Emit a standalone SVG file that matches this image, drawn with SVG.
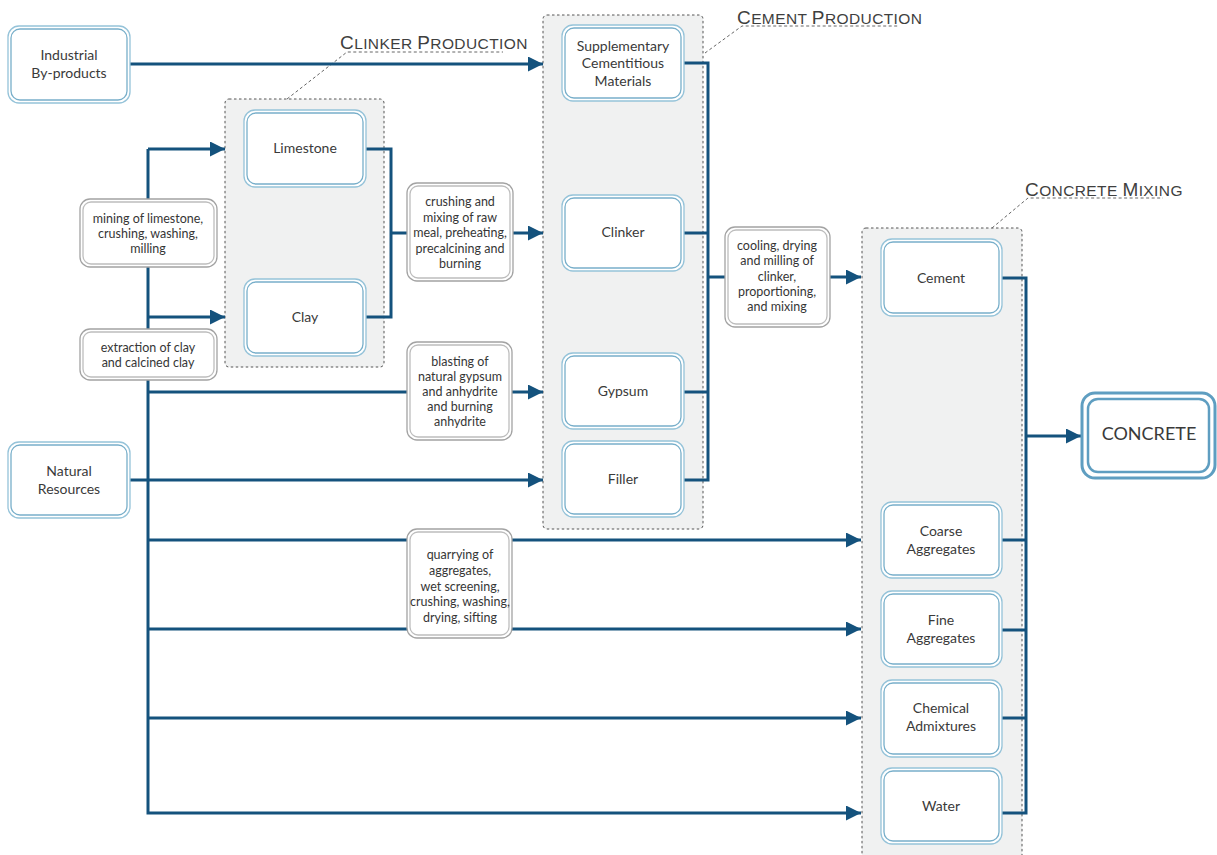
<svg xmlns="http://www.w3.org/2000/svg" width="1217" height="855" viewBox="0 0 1217 855">
  <style>
    .grp { fill: #f0f1f1; stroke: #555; stroke-width: 1; stroke-dasharray: 2.5 2.5; }
    .lead { fill: none; stroke: #666; stroke-width: 1; stroke-dasharray: 3 2.5; }
    .gtitle { font-family: "Liberation Sans", Arial, sans-serif; fill: #3f3f3f; letter-spacing: 0.4px; }
    .big { font-size: 19px; }
    .sm { font-size: 15.5px; }
    .n-out { fill: #fff; stroke: #95c3d9; stroke-width: 1.3; }
    .n-in { fill: #fff; stroke: #78afca; stroke-width: 1.3; }
    .l-out { fill: #fff; stroke: #a3a3a3; stroke-width: 1.3; }
    .l-in { fill: #fff; stroke: #bdbdbd; stroke-width: 1.3; }
    .nt { font-family: Lato, "Noto Sans", sans-serif; font-size: 14px; fill: #3a3a3a; text-anchor: middle; }
    .lt { font-family: Lato, "Noto Sans", sans-serif; font-size: 12.5px; fill: #363636; text-anchor: middle; }
    .wire { fill: none; stroke: #14527d; stroke-width: 3; }
    .arr { marker-end: url(#head); }
    .fin-out { fill: #fff; stroke: #5f9ec1; stroke-width: 3; }
    .fin-in { fill: #fff; stroke: #5f9ec1; stroke-width: 2.5; }
  </style>
  <defs>
    <marker id="head" viewBox="0 0 15 15" refX="15" refY="7.5" markerWidth="15" markerHeight="15" markerUnits="userSpaceOnUse" orient="auto">
      <path d="M0,0 L15,7.5 L0,15 z" fill="#14527d"/>
    </marker>
  </defs>

  <rect width="1217" height="855" fill="#fff"/>

  <!-- stage groups -->
  <g id="group-clinker">
    <rect class="grp" x="225" y="99" width="159" height="268" rx="4"/>
    <path class="lead" d="M287,99 L347,52 H503"/>
    <text class="gtitle" x="340" y="49"><tspan class="big">C</tspan><tspan class="sm">LINKER </tspan><tspan class="big">P</tspan><tspan class="sm">RODUCTION</tspan></text>
  </g>
  <g id="group-cement">
    <rect class="grp" x="543" y="15" width="160" height="514" rx="4"/>
    <path class="lead" d="M705,53 L742,26 H898"/>
    <text class="gtitle" x="737" y="24"><tspan class="big">C</tspan><tspan class="sm">EMENT </tspan><tspan class="big">P</tspan><tspan class="sm">RODUCTION</tspan></text>
  </g>
  <g id="group-mixing">
    <rect class="grp" x="862" y="228" width="160" height="640" rx="4"/>
    <path class="lead" d="M992,228 L1028,198 H1163"/>
    <text class="gtitle" x="1025" y="196"><tspan class="big">C</tspan><tspan class="sm">ONCRETE </tspan><tspan class="big">M</tspan><tspan class="sm">IXING</tspan></text>
  </g>

  <!-- connectors -->
  <g id="connectors">
    <path class="wire arr" d="M130,64 H543"/>
    <path class="wire arr" d="M148,149 H225"/>
    <path class="wire arr" d="M148,149 V813 H861"/>
    <path class="wire arr" d="M148,317 H225"/>
    <path class="wire arr" d="M148,392 H543"/>
    <path class="wire arr" d="M130,480 H543"/>
    <path class="wire arr" d="M148,540 H861"/>
    <path class="wire arr" d="M148,629 H861"/>
    <path class="wire arr" d="M148,718 H861"/>
    <path class="wire" d="M365,149 H391 V317 H365"/>
    <path class="wire arr" d="M391,233 H543"/>
    <path class="wire" d="M683,63 H708 V480 H683 M683,233 H708 M683,392 H708"/>
    <path class="wire arr" d="M708,277 H861"/>
    <path class="wire" d="M1001,278 H1026 V813 H1001 M1001,540 H1026 M1001,630 H1026 M1001,718 H1026"/>
    <path class="wire arr" d="M1026,436 H1081"/>
  </g>

  <!-- source nodes -->
  <g id="industrial-byproducts">
    <rect class="n-out" x="8" y="26" width="122" height="77" rx="11"/>
    <rect class="n-in" x="11" y="29" width="116" height="71" rx="9"/>
    <text class="nt" x="69" y="60">Industrial</text>
    <text class="nt" x="69" y="78">By-products</text>
  </g>
  <g id="natural-resources">
    <rect class="n-out" x="8" y="442" width="122" height="76" rx="11"/>
    <rect class="n-in" x="11" y="445" width="116" height="70" rx="9"/>
    <text class="nt" x="69" y="476">Natural</text>
    <text class="nt" x="69" y="494">Resources</text>
  </g>

  <!-- process labels -->
  <g id="label-mining">
    <rect class="l-out" x="80" y="199" width="137" height="68" rx="10"/>
    <rect class="l-in" x="83" y="202" width="131" height="62" rx="8"/>
    <text class="lt" x="148" y="223">mining of limestone,</text>
    <text class="lt" x="148" y="238">crushing, washing,</text>
    <text class="lt" x="148" y="253">milling</text>
  </g>
  <g id="label-extraction">
    <rect class="l-out" x="80" y="329" width="137" height="51" rx="10"/>
    <rect class="l-in" x="83" y="332" width="131" height="45" rx="8"/>
    <text class="lt" x="148" y="352">extraction of clay</text>
    <text class="lt" x="148" y="367">and calcined clay</text>
  </g>
  <g id="label-crushing">
    <rect class="l-out" x="407" y="183" width="106" height="98" rx="10"/>
    <rect class="l-in" x="410" y="186" width="100" height="92" rx="8"/>
    <text class="lt" x="460" y="206">crushing and</text>
    <text class="lt" x="460" y="222">mixing of raw</text>
    <text class="lt" x="460" y="237">meal, preheating,</text>
    <text class="lt" x="460" y="253">precalcining and</text>
    <text class="lt" x="460" y="268">burning</text>
  </g>
  <g id="label-blasting">
    <rect class="l-out" x="407" y="342" width="105" height="98" rx="10"/>
    <rect class="l-in" x="410" y="345" width="99" height="92" rx="8"/>
    <text class="lt" x="460" y="366">blasting of</text>
    <text class="lt" x="460" y="381">natural gypsum</text>
    <text class="lt" x="460" y="396">and anhydrite</text>
    <text class="lt" x="460" y="411">and burning</text>
    <text class="lt" x="460" y="426">anhydrite</text>
  </g>
  <g id="label-quarrying">
    <rect class="l-out" x="407" y="529" width="105" height="109" rx="10"/>
    <rect class="l-in" x="410" y="532" width="99" height="103" rx="8"/>
    <text class="lt" x="460" y="559">quarrying of</text>
    <text class="lt" x="460" y="575">aggregates,</text>
    <text class="lt" x="460" y="591">wet screening,</text>
    <text class="lt" x="460" y="606">crushing, washing,</text>
    <text class="lt" x="460" y="622">drying, sifting</text>
  </g>
  <g id="label-cooling">
    <rect class="l-out" x="725" y="227" width="105" height="100" rx="10"/>
    <rect class="l-in" x="728" y="230" width="99" height="94" rx="8"/>
    <text class="lt" x="777" y="250">cooling, drying</text>
    <text class="lt" x="777" y="265">and milling of</text>
    <text class="lt" x="777" y="281">clinker,</text>
    <text class="lt" x="777" y="296">proportioning,</text>
    <text class="lt" x="777" y="311">and mixing</text>
  </g>

  <!-- clinker production -->
  <g id="limestone">
    <rect class="n-out" x="244" y="110" width="122" height="77" rx="11"/>
    <rect class="n-in" x="247" y="113" width="116" height="71" rx="9"/>
    <text class="nt" x="305" y="153">Limestone</text>
  </g>
  <g id="clay">
    <rect class="n-out" x="244" y="279" width="122" height="77" rx="11"/>
    <rect class="n-in" x="247" y="282" width="116" height="71" rx="9"/>
    <text class="nt" x="305" y="322">Clay</text>
  </g>

  <!-- cement production -->
  <g id="scm">
    <rect class="n-out" x="562" y="25" width="122" height="76" rx="11"/>
    <rect class="n-in" x="565" y="28" width="116" height="70" rx="9"/>
    <text class="nt" x="623" y="51">Supplementary</text>
    <text class="nt" x="623" y="68">Cementitious</text>
    <text class="nt" x="623" y="86">Materials</text>
  </g>
  <g id="clinker">
    <rect class="n-out" x="562" y="195" width="122" height="76" rx="11"/>
    <rect class="n-in" x="565" y="198" width="116" height="70" rx="9"/>
    <text class="nt" x="623" y="237">Clinker</text>
  </g>
  <g id="gypsum">
    <rect class="n-out" x="562" y="353" width="122" height="76" rx="11"/>
    <rect class="n-in" x="565" y="356" width="116" height="70" rx="9"/>
    <text class="nt" x="623" y="396">Gypsum</text>
  </g>
  <g id="filler">
    <rect class="n-out" x="562" y="441" width="122" height="76" rx="11"/>
    <rect class="n-in" x="565" y="444" width="116" height="70" rx="9"/>
    <text class="nt" x="623" y="484">Filler</text>
  </g>

  <!-- concrete mixing -->
  <g id="cement">
    <rect class="n-out" x="881" y="239" width="121" height="77" rx="11"/>
    <rect class="n-in" x="884" y="242" width="115" height="71" rx="9"/>
    <text class="nt" x="941" y="283">Cement</text>
  </g>
  <g id="coarse-aggregates">
    <rect class="n-out" x="881" y="502" width="121" height="76" rx="11"/>
    <rect class="n-in" x="884" y="505" width="115" height="70" rx="9"/>
    <text class="nt" x="941" y="536">Coarse</text>
    <text class="nt" x="941" y="554">Aggregates</text>
  </g>
  <g id="fine-aggregates">
    <rect class="n-out" x="881" y="591" width="121" height="76" rx="11"/>
    <rect class="n-in" x="884" y="594" width="115" height="70" rx="9"/>
    <text class="nt" x="941" y="625">Fine</text>
    <text class="nt" x="941" y="643">Aggregates</text>
  </g>
  <g id="chemical-admixtures">
    <rect class="n-out" x="881" y="680" width="121" height="77" rx="11"/>
    <rect class="n-in" x="884" y="683" width="115" height="71" rx="9"/>
    <text class="nt" x="941" y="713">Chemical</text>
    <text class="nt" x="941" y="731">Admixtures</text>
  </g>
  <g id="water">
    <rect class="n-out" x="881" y="768" width="121" height="76" rx="11"/>
    <rect class="n-in" x="884" y="771" width="115" height="70" rx="9"/>
    <text class="nt" x="941" y="811">Water</text>
  </g>

  <!-- final product -->
  <g id="concrete">
    <rect class="fin-out" x="1082" y="393" width="133" height="85" rx="13"/>
    <rect class="fin-in" x="1088" y="399" width="121" height="73" rx="10"/>
    <text x="1149" y="440" font-family="Lato, 'Noto Sans', sans-serif" font-size="18" fill="#3a3a3a" text-anchor="middle">CONCRETE</text>
  </g>
</svg>
